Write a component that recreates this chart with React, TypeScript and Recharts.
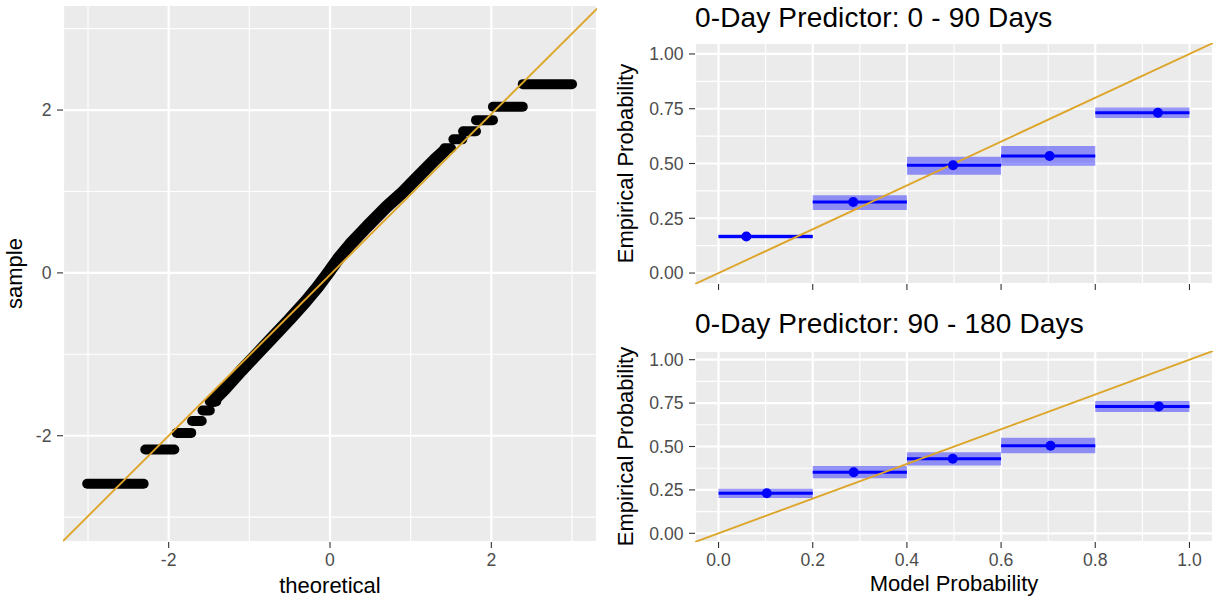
import React from 'react';
import { ComposedChart, XAxis, YAxis, CartesianGrid, Line, Scatter, ReferenceArea, Label } from 'recharts';

// ---------- Q-Q panel data ----------
const qqMajorTicks = [-2, 0, 2];
const qqMinorTicks = [-3, -1, 1, 3];
const qqDomainX = [-3.31, 3.31];
const qqDomainY = [-3.305, 3.29];

// flat runs of tied sample values (sample value, first and last theoretical quantile)
const qqStepSample = [-2.59, -2.17, -1.965, -1.82, -1.69, -1.58, 1.53, 1.64, 1.74, 1.876, 2.04, 2.318];
const qqStepFrom = [-3.01, -2.29, -1.9, -1.71, -1.58, -1.49, 1.42, 1.53, 1.65, 1.81, 2.02, 2.39];
const qqStepTo = [-2.31, -1.93, -1.72, -1.59, -1.49, -1.41, 1.5, 1.64, 1.81, 2.02, 2.39, 3.0];

// dense middle section of the sample quantiles
const qqCurveTheoretical = [-1.45, -1.3, -1.1, -0.9, -0.7, -0.5, -0.3, -0.15, 0, 0.1, 0.25, 0.46, 0.7, 0.9, 1.1, 1.3, 1.42];
const qqCurveSample = [-1.57, -1.42, -1.2, -0.99, -0.78, -0.57, -0.35, -0.17, 0.03, 0.17, 0.35, 0.57, 0.81, 0.99, 1.19, 1.39, 1.5];

// reference line end points
const qqLineTheoretical = [-3.31, 3.31];
const qqLineSample = [-3.294, 3.246];

// ---------- calibration panels data ----------
const binStart = [0, 0.2, 0.4, 0.6, 0.8];
const binEnd = [0.2, 0.4, 0.6, 0.8, 1.0];
const probTicks = [0, 0.25, 0.5, 0.75, 1];
const probMinorTicks = [0.125, 0.375, 0.625, 0.875];
const modelTicks = [0, 0.2, 0.4, 0.6, 0.8, 1.0];
const modelMinorTicks = [0.1, 0.3, 0.5, 0.7, 0.9];
const probDomain = [-0.05, 1.05];
const diagonal = [-0.05, 1.05];

const topEmpirical = [0.167, 0.324, 0.492, 0.534, 0.732];
const topLower = [0.158, 0.288, 0.449, 0.49, 0.708];
const topUpper = [0.176, 0.355, 0.531, 0.58, 0.756];
const topModelMean = [0.059, 0.286, 0.498, 0.703, 0.933];

const bottomEmpirical = [0.231, 0.352, 0.429, 0.504, 0.731];
const bottomLower = [0.204, 0.317, 0.39, 0.4615, 0.698];
const bottomUpper = [0.256, 0.388, 0.467, 0.55, 0.762];
const bottomModelMean = [0.1025, 0.287, 0.4975, 0.705, 0.935];

const FONT = '"Liberation Sans", Arial, Helvetica, sans-serif';
const GOLD = '#DDA62A';
const BLUE = '#0000FF';
const PANEL_BG = '#EBEBEB';
const TICK_STYLE = { fill: '#4D4D4D', fontSize: 17.6, fontFamily: FONT };
const TITLE_STYLE = { fill: '#000000', fontSize: 22, fontFamily: FONT };

function QQPanel() {
  const curve = qqCurveTheoretical.map((t, i) => ({ theoretical: t, sample: qqCurveSample[i] }));
  const line = qqLineTheoretical.map((t, i) => ({ theoretical: t, sample: qqLineSample[i] }));
  return (
    <div style={{ position: 'absolute', left: 0, top: 0, width: 610, height: 601 }}>
      <ComposedChart width={610} height={601} margin={{ top: 5, right: 13, bottom: 0, left: 0 }}>
        <XAxis xAxisId="minor" type="number" dataKey="theoretical" domain={qqDomainX} ticks={qqMinorTicks} allowDataOverflow hide />
        <YAxis yAxisId="minor" type="number" dataKey="sample" domain={qqDomainY} ticks={qqMinorTicks} allowDataOverflow hide />
        <CartesianGrid xAxisId="minor" yAxisId="minor" fill={PANEL_BG} fillOpacity={1} stroke="#FFFFFF" strokeWidth={1.1} />
        <CartesianGrid stroke="#FFFFFF" strokeWidth={2.2} />
        <XAxis
          type="number"
          dataKey="theoretical"
          domain={qqDomainX}
          ticks={qqMajorTicks}
          allowDataOverflow
          height={59}
          axisLine={false}
          tickLine={{ stroke: '#333333', strokeWidth: 1.1 }}
          tickSize={6}
          tickMargin={5.5}
          tick={TICK_STYLE}
        >
          <Label value="theoretical" position="insideBottom" offset={8} style={TITLE_STYLE} />
        </XAxis>
        <YAxis
          type="number"
          dataKey="sample"
          domain={qqDomainY}
          ticks={qqMajorTicks}
          allowDataOverflow
          width={63}
          axisLine={false}
          tickLine={{ stroke: '#333333', strokeWidth: 1.1 }}
          tickSize={6}
          tickMargin={5.5}
          tick={TICK_STYLE}
        >
          <Label value="sample" angle={-90} position="insideLeft" offset={14} style={{ ...TITLE_STYLE, textAnchor: 'middle' }} />
        </YAxis>
        {qqStepSample.map((s, i) => (
          <Line
            key={'step' + i}
            data={[{ theoretical: qqStepFrom[i], sample: s }, { theoretical: qqStepTo[i], sample: s }]}
            dataKey="sample"
            stroke="#000000"
            strokeWidth={10}
            strokeLinecap="round"
            dot={false}
            activeDot={false}
            isAnimationActive={false}
          />
        ))}
        <Line
          data={curve}
          dataKey="sample"
          stroke="#000000"
          strokeWidth={12.5}
          strokeLinecap="round"
          strokeLinejoin="round"
          dot={false}
          activeDot={false}
          isAnimationActive={false}
        />
        <Line data={line} dataKey="sample" stroke={GOLD} strokeWidth={1.9} dot={false} activeDot={false} isAnimationActive={false} />
      </ComposedChart>
    </div>
  );
}

function CalibrationPanel(props: any) {
  const { top, height, marginTop, xAxisHeight, showX, empirical, lower, upper, modelMean } = props;
  const points = modelMean.map((m: number, i: number) => ({ model: m, empirical: empirical[i] }));
  const diag = diagonal.map((d) => ({ model: d, empirical: d }));
  return (
    <div style={{ position: 'absolute', left: 610, top, width: 615, height }}>
      <ComposedChart width={615} height={height} margin={{ top: marginTop, right: 12, bottom: 0, left: 0 }}>
        <XAxis xAxisId="minor" type="number" dataKey="model" domain={probDomain} ticks={modelMinorTicks} allowDataOverflow hide />
        <YAxis yAxisId="minor" type="number" dataKey="empirical" domain={probDomain} ticks={probMinorTicks} allowDataOverflow hide />
        <CartesianGrid xAxisId="minor" yAxisId="minor" fill={PANEL_BG} fillOpacity={1} stroke="#FFFFFF" strokeWidth={1.1} />
        <CartesianGrid stroke="#FFFFFF" strokeWidth={2.2} />
        <XAxis
          type="number"
          dataKey="model"
          domain={probDomain}
          ticks={modelTicks}
          allowDataOverflow
          height={xAxisHeight}
          axisLine={false}
          tickLine={{ stroke: '#333333', strokeWidth: 1.1 }}
          tickSize={6}
          tickMargin={5.5}
          tick={TICK_STYLE}
          tickFormatter={(v: number) => (showX ? v.toFixed(1) : '')}
        >
          {showX ? <Label value="Model Probability" position="insideBottom" offset={10} style={TITLE_STYLE} /> : null}
        </XAxis>
        <YAxis
          type="number"
          dataKey="empirical"
          domain={probDomain}
          ticks={probTicks}
          allowDataOverflow
          width={85}
          axisLine={false}
          tickLine={{ stroke: '#333333', strokeWidth: 1.1 }}
          tickSize={6}
          tickMargin={5.5}
          tick={TICK_STYLE}
          tickFormatter={(v: number) => v.toFixed(2)}
        >
          <Label value="Empirical Probability" angle={-90} position="insideLeft" offset={15.5} style={{ ...TITLE_STYLE, textAnchor: 'middle' }} />
        </YAxis>
        {binStart.map((b, i) => (
          <ReferenceArea
            key={'ci' + i}
            x1={b}
            x2={binEnd[i]}
            y1={lower[i]}
            y2={upper[i]}
            fill={BLUE}
            fillOpacity={0.4}
            stroke="none"
            ifOverflow="visible"
          />
        ))}
        {binStart.map((b, i) => (
          <Line
            key={'bin' + i}
            data={[{ model: b, empirical: empirical[i] }, { model: binEnd[i], empirical: empirical[i] }]}
            dataKey="empirical"
            stroke={BLUE}
            strokeWidth={3}
            dot={false}
            activeDot={false}
            isAnimationActive={false}
          />
        ))}
        <Scatter
          data={points}
          dataKey="empirical"
          fill={BLUE}
          isAnimationActive={false}
          shape={(p: any) => <circle cx={p.cx} cy={p.cy} r={5} fill={BLUE} />}
        />
        <Line data={diag} dataKey="empirical" stroke={GOLD} strokeWidth={1.9} dot={false} activeDot={false} isAnimationActive={false} />
      </ComposedChart>
    </div>
  );
}

export default function App() {
  return (
    <div style={{ position: 'absolute', left: 0, top: 0, width: 1225, height: 601, background: '#FFFFFF', overflow: 'hidden' }}>
      <QQPanel />
      <CalibrationPanel
        top={0}
        height={300}
        marginTop={43}
        xAxisHeight={16}
        showX={false}
        empirical={topEmpirical}
        lower={topLower}
        upper={topUpper}
        modelMean={topModelMean}
      />
      <CalibrationPanel
        top={300}
        height={301}
        marginTop={51}
        xAxisHeight={59}
        showX={true}
        empirical={bottomEmpirical}
        lower={bottomLower}
        upper={bottomUpper}
        modelMean={bottomModelMean}
      />
      <svg width={1225} height={601} style={{ position: 'absolute', left: 0, top: 0, pointerEvents: 'none' }}>
        <text x={695} y={27} fontSize={28} letterSpacing={0.15} fontFamily={FONT} fill="#000000">0-Day Predictor: 0 - 90 Days</text>
        <text x={695} y={333} fontSize={28} letterSpacing={0.15} fontFamily={FONT} fill="#000000">0-Day Predictor: 90 - 180 Days</text>
      </svg>
    </div>
  );
}
